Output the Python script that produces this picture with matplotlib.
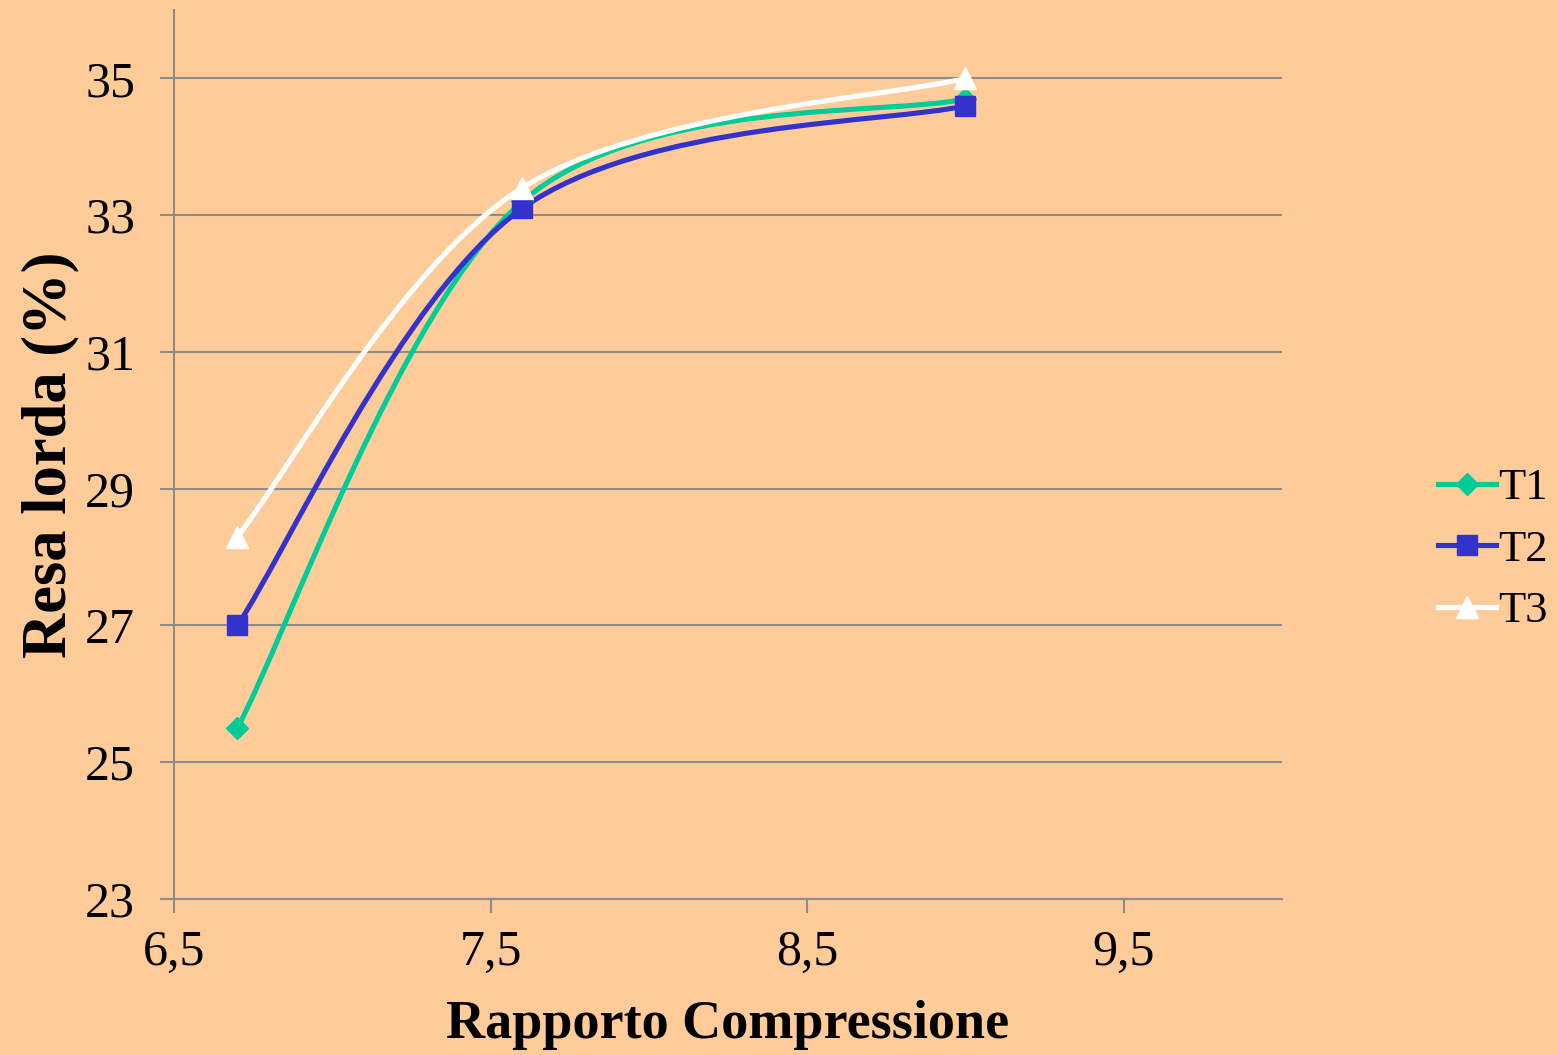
import matplotlib
matplotlib.use("Agg")
import matplotlib.pyplot as plt
from matplotlib.path import Path
from matplotlib.patches import PathPatch
from matplotlib.lines import Line2D

# data
rapporto = [6.7, 7.6, 9.0]
t1 = [25.5, 33.2, 34.7]
t2 = [27.0, 33.1, 34.6]
t3 = [28.3, 33.4, 35.0]
series_names = ["T1", "T2", "T3"]
x_ticks = [6.5, 7.5, 8.5, 9.5]
x_tick_labels = ["6,5", "7,5", "8,5", "9,5"]
y_ticks = [23, 25, 27, 29, 31, 33, 35]

bg = "#FFCC99"
colors = ["#00CC99", "#3333CC", "#FFFFFF"]
markers = ["D", "s", "^"]
msizes = [11, 15, 16]

plt.rcParams['font.family'] = ['Liberation Serif', 'DejaVu Serif']


def smooth_path(xs, ys):
    # Excel-like smoothed line: cubic bezier with catmull-rom control points
    pts = list(zip(xs, ys))
    verts = [pts[0]]
    codes = [Path.MOVETO]
    n = len(pts)
    for i in range(n - 1):
        p0 = pts[i - 1] if i > 0 else pts[i]
        p1 = pts[i]
        p2 = pts[i + 1]
        p3 = pts[i + 2] if i + 2 < n else pts[i + 1]
        c1 = (p1[0] + (p2[0] - p0[0]) / 6, p1[1] + (p2[1] - p0[1]) / 6)
        c2 = (p2[0] - (p3[0] - p1[0]) / 6, p2[1] - (p3[1] - p1[1]) / 6)
        verts += [c1, c2, p2]
        codes += [Path.CURVE4] * 3
    return Path(verts, codes)


fig = plt.figure(figsize=(15.58, 10.55), dpi=100, facecolor=bg)
ax = fig.add_axes([0.1117, 0.1479, 0.7111, 0.8426])
ax.set_facecolor(bg)

handles = []
for ys, name, c, m, ms in zip([t1, t2, t3], series_names, colors, markers, msizes):
    ax.add_patch(PathPatch(smooth_path(rapporto, ys), facecolor="none",
                           edgecolor=c, lw=3.7, zorder=3))
    ax.plot(rapporto, ys, linestyle="none", marker=m, ms=ms, color=c, zorder=4)
    handles.append(Line2D([], [], color=c, lw=3.7, marker=m, ms=ms, label=name))

ax.set_xlim(6.5, 10.0)
ax.set_ylim(23, 36)
ax.set_xticks(x_ticks)
ax.set_xticklabels(x_tick_labels)
ax.set_yticks(y_ticks)
ax.yaxis.grid(True, color="#8C8C8C", lw=1.5)
ax.set_axisbelow(True)

for s in ["top", "right"]:
    ax.spines[s].set_visible(False)
for s in ["left", "bottom"]:
    ax.spines[s].set_color("#8C8C8C")
    ax.spines[s].set_linewidth(1.5)
ax.tick_params(axis="both", direction="out", length=10, width=1.5,
               color="#8C8C8C", labelsize=36)
ax.tick_params(axis="y", pad=18)
ax.tick_params(axis="x", pad=12)

ax.set_xlabel("Rapporto Compressione", fontsize=39, fontweight="bold", labelpad=17)
ax.set_ylabel("Resa lorda (%)", fontsize=45, fontweight="bold", labelpad=4)

fig.legend(handles=handles, loc="center", bbox_to_anchor=(0.958, 0.479),
           frameon=False, fontsize=32, handlelength=1.3, handletextpad=0.05,
           labelspacing=0.48)

fig.savefig("out.png", dpi=100, facecolor=bg)
